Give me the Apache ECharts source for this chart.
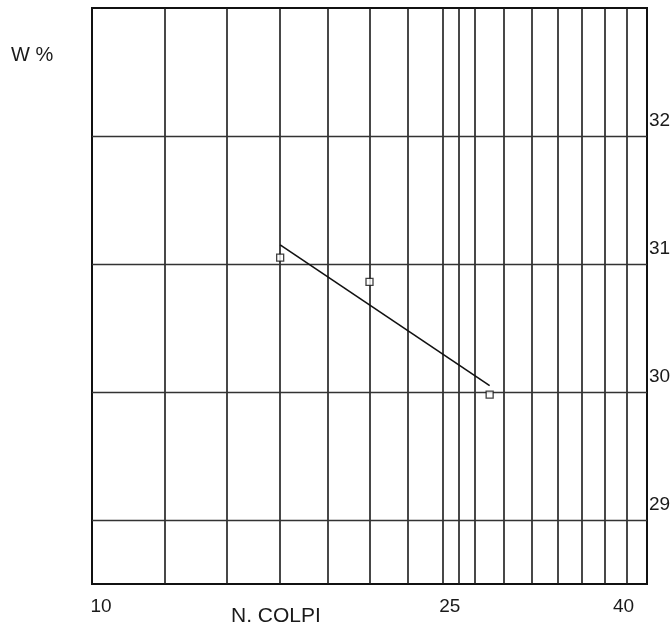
<!DOCTYPE html>
<html>
<head>
<meta charset="utf-8">
<script src="https://cdn.jsdelivr.net/npm/echarts@6/dist/echarts.min.js"></script>
<style>html,body{margin:0;padding:0;background:#fff;}#c{width:671px;height:624px;}</style>
</head>
<body>
<div id="c"></div>
<script>
// Blows (log scale) and water content
const blows = [16, 20, 27];
const waterContent = [31.05, 30.86, 29.98];
const fitBlows = [16, 27];
const fitWater = [31.15, 30.05];
const xGridValues = [12, 14, 16, 18, 20, 22, 24, 25, 26, 28, 30, 32, 34, 36, 38];
const yGridValues = [29, 30, 31, 32];
const xTickLabels = [10, 25, 40];
const yTickLabels = [29, 30, 31, 32];

const chart = echarts.init(document.getElementById('c'));
const font = 'Liberation Sans, Arial, sans-serif';
const fs = 19;
chart.setOption({
  animation: false,
  backgroundColor: '#fff',
  title: [
    {text: 'W %', left: 6, top: 40, textStyle: {fontFamily: font, fontSize: 20, fontWeight: 'normal', color: '#1a1a1a'}},
    {text: 'N. COLPI', left: 226, top: 601, textStyle: {fontFamily: font, fontSize: 21, fontWeight: 'normal', color: '#1a1a1a'}}
  ],
  grid: {left: 92, right: 24, top: 8, bottom: 40, outerBoundsMode: 'none', containLabel: false, show: true, borderColor: '#111', borderWidth: 2, backgroundColor: 'transparent'},
  xAxis: {
    type: 'log', logBase: 10, min: 10, max: 40,
    axisLine: {show: false}, axisTick: {show: false}, splitLine: {show: false}, minorSplitLine: {show: false},
    axisLabel: {
      customValues: xTickLabels, margin: 13, fontFamily: font, fontSize: fs, color: '#1a1a1a',
      formatter: function (v) {
        if (Math.abs(v - 10) < 0.01) return '{a|10}';
        if (Math.abs(v - 25) < 0.01) return '{b|25}';
        return '{c|40}';
      },
      rich: {
        a: {fontFamily: font, fontSize: fs, color: '#1a1a1a', padding: [0, 0, 0, 18]},
        b: {fontFamily: font, fontSize: fs, color: '#1a1a1a', padding: [0, 18, 0, 0]},
        c: {fontFamily: font, fontSize: fs, color: '#1a1a1a', padding: [0, 47, 0, 0]}
      }
    }
  },
  yAxis: {
    type: 'value', min: 28.5, max: 33, position: 'right',
    axisLine: {show: false}, axisTick: {show: false}, splitLine: {show: false},
    axisLabel: {customValues: yTickLabels, margin: 2, fontFamily: font, fontSize: fs, color: '#1a1a1a', verticalAlign: 'bottom', padding: [0, 0, 6, 0]}
  },
  series: [
    {
      type: 'line', data: [], silent: true,
      markLine: {
        silent: true, symbol: ['none', 'none'], animation: false,
        label: {show: false},
        lineStyle: {color: '#1a1a1a', width: 1.6, type: 'solid'},
        emphasis: {disabled: true},
        data: xGridValues.map(v => ({xAxis: v})).concat(yGridValues.map(v => ({yAxis: v, lineStyle: {color: '#333', width: 1.3}})))
      }
    },
    {
      type: 'line', data: fitBlows.map((b, i) => [b, fitWater[i]]),
      symbol: 'none', lineStyle: {color: '#111', width: 1.6}, z: 5
    },
    {
      type: 'scatter', data: blows.map((b, i) => [b, waterContent[i]]),
      symbol: 'rect', symbolSize: 7,
      itemStyle: {color: '#fff', borderColor: '#111', borderWidth: 1.3}, z: 6
    }
  ]
});
</script>
</body>
</html>
